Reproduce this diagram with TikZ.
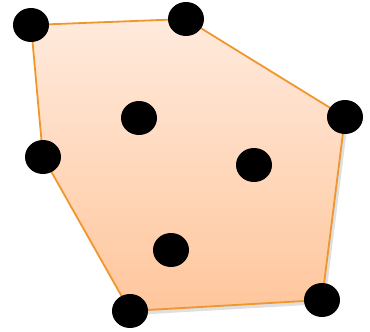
\documentclass[tikz,border=0pt]{standalone}
\usetikzlibrary{shapes.geometric}

\definecolor{hullline}{HTML}{F0962A}
\definecolor{hulltop}{HTML}{FFEADD}
\definecolor{hullbot}{HTML}{FFC69C}

\begin{document}
\begin{tikzpicture}[
  x=1pt, y=-1pt,
  dot/.style={ellipse, fill=black, inner sep=0pt, minimum width=36pt, minimum height=34pt},
  hull/.style={draw=hullline, line width=1.8pt, line join=round,
               top color=hulltop, bottom color=hullbot},
]
\useasboundingbox (0,0) rectangle (370,332);

%% ---------- hull points ----------
\coordinate (h1) at (31,25);
\coordinate (h2) at (186,19);
\coordinate (h3) at (345,117);
\coordinate (h4) at (322,300);
\coordinate (h5) at (130,311);
\coordinate (h6) at (43,157);

%% ---------- convex hull ----------
\fill[black!25, opacity=0.5] ([shift={(3,4)}]h1) -- ([shift={(3,4)}]h2) -- ([shift={(3,4)}]h3)
  -- ([shift={(3,4)}]h4) -- ([shift={(3,4)}]h5) -- ([shift={(3,4)}]h6) -- cycle;
\path[hull] (h1) -- (h2) -- (h3) -- (h4) -- (h5) -- (h6) -- cycle;

%% ---------- points ----------
\node[dot] (p1) at (h1) {};
\node[dot] (p2) at (h2) {};
\node[dot] (p3) at (h3) {};
\node[dot] (p4) at (h4) {};
\node[dot] (p5) at (h5) {};
\node[dot] (p6) at (h6) {};

\node[dot] (q1) at (139,118) {};
\node[dot] (q2) at (254,165) {};
\node[dot] (q3) at (171,250) {};

\end{tikzpicture}
\end{document}
